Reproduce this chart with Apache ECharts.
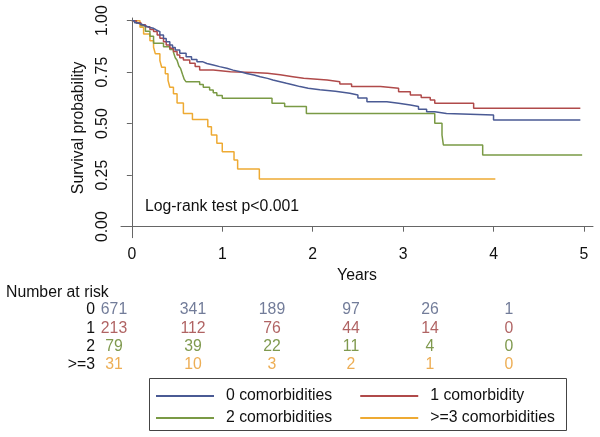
<!DOCTYPE html>
<html>
<head>
<meta charset="utf-8">
<script src="https://cdn.jsdelivr.net/npm/echarts@6/dist/echarts.min.js"></script>
<style>
html,body{margin:0;padding:0;background:#fff;}
#chart{width:600px;height:437px;}
</style>
</head>
<body>
<div id="chart"></div>
<script>
// ---- Data ----
var groupNames = ['0 comorbidities', '1 comorbidity', '2 comorbidities', '>=3 comorbidities'];
var riskRowLabels = ['0', '1', '2', '>=3'];
var riskTimes = [0, 1, 2, 3, 4, 5];
var risk0 = [671, 341, 189, 97, 26, 1];
var risk1 = [213, 112, 76, 44, 14, 0];
var risk2 = [79, 39, 22, 11, 4, 0];
var risk3 = [31, 10, 3, 2, 1, 0];
var xTicks = [0, 1, 2, 3, 4, 5];
var yTicks = [0, 0.25, 0.5, 0.75, 1];

var g0Times = [0,0.03,0.06,0.09,0.13,0.17,0.2,0.24,0.27,0.31,0.35,0.38,0.42,0.45,0.48,0.53,0.6,0.66,0.72,0.78,0.83,0.9,0.97,1.05,1.12,1.2,1.27,1.35,1.42,1.5,1.56,1.64,1.71,1.79,1.86,1.95,2.08,2.25,2.41,2.5,2.6,2.82,2.95,3.08,3.17,3.26,3.35,3.48,4.0,4.96];
var g0Surv  = [1,0.99,0.985,0.979,0.972,0.967,0.963,0.955,0.947,0.93,0.914,0.898,0.882,0.87,0.858,0.842,0.825,0.812,0.801,0.792,0.785,0.777,0.769,0.76,0.752,0.744,0.736,0.728,0.72,0.712,0.704,0.696,0.688,0.68,0.672,0.665,0.657,0.648,0.639,0.625,0.607,0.599,0.591,0.583,0.57,0.558,0.55,0.542,0.518,0.518];

var g1Times = [0,0.05,0.1,0.15,0.2,0.24,0.28,0.31,0.35,0.38,0.42,0.46,0.5,0.53,0.57,0.64,0.7,0.75,0.9,1.09,1.34,1.5,1.64,1.78,1.9,2.16,2.3,2.43,2.75,2.95,3.08,3.2,3.3,3.35,3.78,4.96];
var g1Surv  = [1,0.99,0.98,0.97,0.957,0.947,0.93,0.915,0.898,0.882,0.866,0.85,0.833,0.82,0.809,0.793,0.777,0.761,0.752,0.748,0.745,0.737,0.728,0.72,0.712,0.704,0.693,0.68,0.672,0.655,0.639,0.627,0.615,0.599,0.575,0.575];

var g2Times = [0,0.05,0.1,0.15,0.2,0.24,0.35,0.42,0.46,0.48,0.5,0.52,0.54,0.56,0.58,0.6,0.75,0.79,0.86,0.9,0.94,1.0,1.55,1.69,1.93,3.35,3.43,3.445,3.88,4.98];
var g2Surv  = [1,0.987,0.975,0.949,0.924,0.89,0.873,0.86,0.847,0.82,0.808,0.78,0.767,0.74,0.715,0.703,0.69,0.677,0.664,0.65,0.637,0.623,0.599,0.583,0.55,0.502,0.445,0.397,0.348,0.348];

var g3Times = [0,0.09,0.13,0.2,0.24,0.26,0.31,0.33,0.37,0.4,0.42,0.46,0.5,0.57,0.67,0.84,0.88,0.94,1.0,1.13,1.17,1.41,4.02];
var g3Surv  = [1,0.968,0.935,0.903,0.871,0.839,0.806,0.774,0.742,0.71,0.677,0.645,0.6,0.55,0.52,0.485,0.445,0.405,0.364,0.324,0.28,0.232,0.232];

// ---- Styling ----
var lineColors = ['#4a5a94', '#b04a4a', '#7a9a45', '#eeaa33'];
var textColors = ['#4f5b80', '#9c3c3c', '#5f7f22', '#e89a2a'];
var FONT = '"Liberation Sans", Arial, sans-serif';
var FS = 15.8;

function pairs(ts, ss) { return ts.map(function (t, i) { return [t, ss[i]]; }); }
var curves = [pairs(g0Times, g0Surv), pairs(g1Times, g1Surv), pairs(g2Times, g2Surv), pairs(g3Times, g3Surv)];
var riskRows = [risk0, risk1, risk2, risk3];

var series = [];
curves.forEach(function (d, i) {
  series.push({
    name: groupNames[i], type: 'line', step: 'end', symbol: 'none',
    xAxisIndex: 0, yAxisIndex: 0,
    lineStyle: { color: lineColors[i], width: 1.5 },
    itemStyle: { color: lineColors[i] },
    data: d, z: 10 - i
  });
});
riskRows.forEach(function (row, i) {
  series.push({
    type: 'scatter', xAxisIndex: 1, yAxisIndex: 1, symbolSize: 0,
    data: row.map(function (v, j) { return [riskTimes[j], riskRowLabels[i], v]; }),
    label: { show: true, position: 'inside', color: textColors[i], fontFamily: FONT, fontSize: FS,
      formatter: function (p) { return String(p.value[2]); } },
    silent: true
  });
});

var chart = echarts.init(document.getElementById('chart'));
chart.setOption({
  animation: false,
  backgroundColor: '#fff',
  textStyle: { fontFamily: FONT },
  title: [
    { text: 'Log-rank test p<0.001', left: 145, top: 199,
      textStyle: { fontFamily: FONT, fontSize: FS, fontWeight: 'normal', color: '#111' }, padding: 0 },
    { text: 'Number at risk', left: 6, top: 285,
      textStyle: { fontFamily: FONT, fontSize: FS, fontWeight: 'normal', color: '#111' }, padding: 0 }
  ],
  grid: [
    { left: 121, right: 7, top: 18, bottom: 199.3 },
    { left: 114, width: 395, top: 300.8, height: 73.3 }
  ],
  xAxis: [
    { type: 'value', gridIndex: 0, min: -0.12, max: 5.1,
      name: 'Years', nameLocation: 'middle', nameGap: 25,
      nameTextStyle: { fontFamily: FONT, fontSize: FS, color: '#111' },
      axisLine: { show: true, lineStyle: { color: '#666', width: 1 } },
      axisTick: { show: true, length: 5, customValues: xTicks, lineStyle: { color: '#666' } },
      axisLabel: { customValues: xTicks, margin: 9, fontFamily: FONT, fontSize: FS, color: '#111' },
      splitLine: { show: false } },
    { type: 'value', gridIndex: 1, min: 0, max: 5, show: false }
  ],
  yAxis: [
    { type: 'value', gridIndex: 0, min: -0.0534, max: 1.013,
      name: 'Survival probability', nameLocation: 'middle', nameGap: 27, nameRotate: 90,
      nameTextStyle: { fontFamily: FONT, fontSize: FS, color: '#111' },
      axisLine: { show: true, lineStyle: { color: '#666', width: 1 } },
      axisTick: { show: true, length: 5, customValues: yTicks, lineStyle: { color: '#666' } },
      axisLabel: { customValues: yTicks, rotate: 90, margin: 10, fontFamily: FONT, fontSize: FS, color: '#111',
        formatter: function (v) { return v.toFixed(2); } },
      splitLine: { show: false } },
    { type: 'category', gridIndex: 1, data: riskRowLabels, inverse: true,
      axisLine: { show: false }, axisTick: { show: false }, splitLine: { show: false },
      axisLabel: { interval: 0, margin: 19, fontFamily: FONT, fontSize: FS, color: '#111' } }
  ],
  legend: [
    { data: [groupNames[0], groupNames[1]], left: 156, top: 388, orient: 'horizontal',
      itemWidth: 58, itemHeight: 2, itemGap: 28, icon: 'rect', padding: 0, itemGap: 28,
      textStyle: { fontFamily: FONT, fontSize: FS, color: '#111', padding: [0, 0, 0, 7] } },
    { data: [groupNames[2], groupNames[3]], left: 156, top: 410, orient: 'horizontal',
      itemWidth: 58, itemHeight: 2, itemGap: 28, icon: 'rect', padding: 0,
      textStyle: { fontFamily: FONT, fontSize: FS, color: '#111', padding: [0, 0, 0, 7] } }
  ],
  graphic: [
    { type: 'rect', shape: { x: 149.5, y: 378.5, width: 417, height: 52 },
      style: { fill: 'none', stroke: '#444', lineWidth: 1 }, silent: true }
  ],
  series: series
});
</script>
</body>
</html>
